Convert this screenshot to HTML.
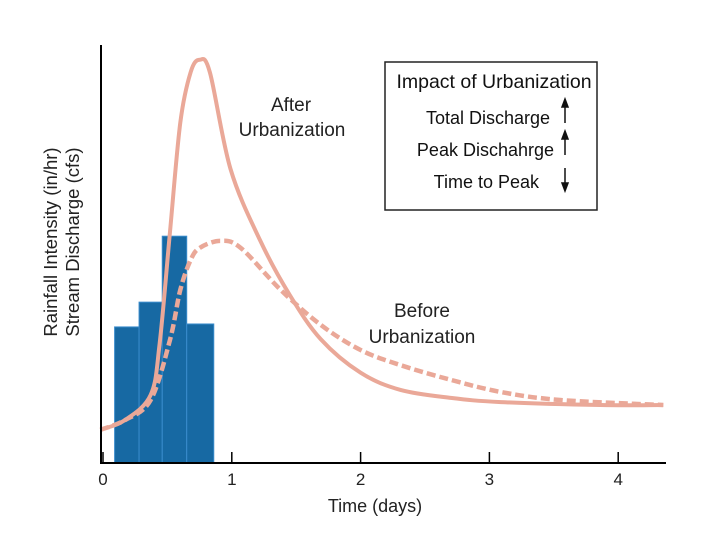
<!DOCTYPE html>
<html><head><meta charset="utf-8"><style>
body{margin:0;background:#fff;}
svg{display:block;font-family:"Liberation Sans",sans-serif;}
</style></head><body>
<svg width="720" height="540">
<g id="bars"></g>
<g id="lines"></g>
<line x1="101" y1="45" x2="101" y2="464" stroke="#000" stroke-width="2"/>
<line x1="100" y1="463" x2="666" y2="463" stroke="#000" stroke-width="2"/>
<g id="ticks"></g>
<text x="375" y="512" font-size="18" text-anchor="middle" fill="#222">Time (days)</text>
<g transform="translate(57,242) rotate(-90)">
<text x="0" y="0" font-size="18.5" text-anchor="middle" fill="#222">Rainfall Intensity (in/hr)</text>
<text x="0" y="22" font-size="18.5" text-anchor="middle" fill="#222">Stream Discharge (cfs)</text>
</g>
<g font-size="19" fill="#222" text-anchor="middle">
<text x="291" y="111">After</text><text x="292" y="136">Urbanization</text></g>
<g font-size="19" fill="#222" text-anchor="middle">
<text x="422" y="317">Before</text><text x="422" y="343">Urbanization</text></g>
<g>
<rect x="385" y="62" width="212" height="148" fill="#fff" stroke="#222" stroke-width="1.5"/>
<text x="494" y="88" font-size="19.5" text-anchor="middle" fill="#111">Impact of Urbanization</text>
<text x="550" y="124" font-size="18" text-anchor="end" fill="#111">Total Discharge</text>
<text x="554" y="156" font-size="18" text-anchor="end" fill="#111">Peak Dischahrge</text>
<text x="539" y="188" font-size="18" text-anchor="end" fill="#111">Time to Peak</text>
<g stroke="#111" stroke-width="1.5" fill="#111">
<line x1="565" y1="104" x2="565" y2="123"/><path d="M562,107 L565,99 L568,107Z"/>
<line x1="565" y1="136" x2="565" y2="155"/><path d="M562,139 L565,131 L568,139Z"/>
<line x1="565" y1="168" x2="565" y2="187"/><path d="M562,183 L565,191 L568,183Z"/>
</g></g>
</svg>
<script>
const barStarts=[0.09,0.28,0.46,0.65];
const barEnds=[0.28,0.46,0.65,0.86];
const barValues=[32.4,38.3,54.0,33.1];
const afterDays=[-0.02,0.17,0.37,0.44,0.52,0.60,0.68,0.75,0.83,0.99,1.22,1.45,1.69,2.0,2.31,2.70,3.09,3.86,4.35];
const afterValues=[7.9,10.2,16.2,28.5,55,81,93,96,93,70,53,40,29.5,21.5,17.4,15.5,14.5,13.8,13.8];
const beforeDays=[-0.02,0.17,0.37,0.52,0.60,0.68,0.75,0.91,1.07,1.38,1.69,2.0,2.31,2.70,3.09,3.55,4.35];
const beforeValues=[7.9,10.2,15.0,29.3,41.2,48.3,51.2,52.9,51.2,41.2,32.9,26.9,23.3,19.8,16.9,15.0,13.8];
const xTicks=[0,1,2,3,4];
const NS="http://www.w3.org/2000/svg";
const xs=d=>103+d*128.8, ys=v=>463-v*4.2;
const bars=document.getElementById('bars');
barValues.forEach((v,i)=>{
 const r=document.createElementNS(NS,'rect');
 r.setAttribute('x',xs(barStarts[i]));r.setAttribute('width',xs(barEnds[i])-xs(barStarts[i]));
 r.setAttribute('y',ys(v));r.setAttribute('height',463-ys(v));
 r.setAttribute('fill','#1769a3');r.setAttribute('stroke','#3a8ccc');r.setAttribute('stroke-width','1');
 
 
 bars.appendChild(r);
});
function path(dx,vy){
 const p=dx.map((d,i)=>[xs(d),ys(vy[i])]);
 let s=`M${p[0][0]},${p[0][1]}`;
 for(let i=0;i<p.length-1;i++){
  const a=p[i-1]||p[i],b=p[i],c=p[i+1],e=p[i+2]||c;
  s+=` C${b[0]+(c[0]-a[0])/6},${b[1]+(c[1]-a[1])/6} ${c[0]-(e[0]-b[0])/6},${c[1]-(e[1]-b[1])/6} ${c[0]},${c[1]}`;
 }
 return s;
}
const lines=document.getElementById('lines');
const pb=document.createElementNS(NS,'path');
pb.setAttribute('d',path(beforeDays,beforeValues));pb.setAttribute('fill','none');
pb.setAttribute('stroke','#eaa898');pb.setAttribute('stroke-width','4.5');pb.setAttribute('stroke-dasharray','9 4');


lines.appendChild(pb);
const pa=document.createElementNS(NS,'path');
pa.setAttribute('d',path(afterDays,afterValues));pa.setAttribute('fill','none');
pa.setAttribute('stroke','#eaa898');pa.setAttribute('stroke-width','4');


lines.appendChild(pa);
const tk=document.getElementById('ticks');
xTicks.forEach(t=>{
 const l=document.createElementNS(NS,'line');
 l.setAttribute('x1',xs(t));l.setAttribute('x2',xs(t));l.setAttribute('y1',452);l.setAttribute('y2',463);
 l.setAttribute('stroke','#000');l.setAttribute('stroke-width','1.5');
 
 
 tk.appendChild(l);
 const tx=document.createElementNS(NS,'text');
 tx.setAttribute('x',xs(t));tx.setAttribute('y',485);tx.setAttribute('font-size','17');
 tx.setAttribute('text-anchor','middle');tx.setAttribute('fill','#222');tx.textContent=t;
 
 
 tk.appendChild(tx);
});
</script>
</body></html>
